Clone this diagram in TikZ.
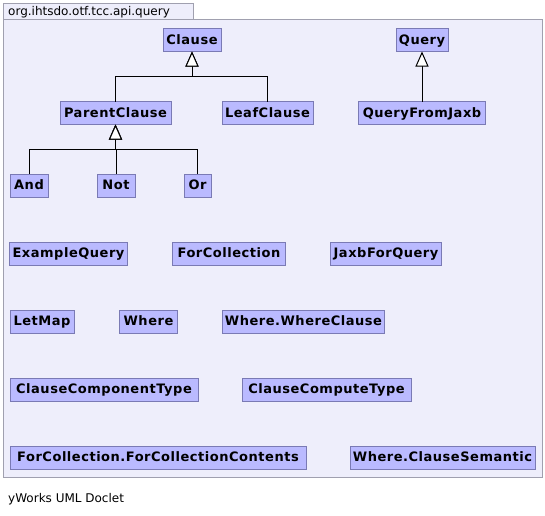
\documentclass[tikz,border=0pt]{standalone}
\usepackage{fontspec}
\usepackage{tikz}
\usetikzlibrary{positioning,arrows.meta,calc}
\newfontfamily\dejavu{DejaVu Sans}
\newfontfamily\dejavubold[LetterSpace=4]{DejaVu Sans Bold}
\definecolor{pkgbg}{RGB}{238,238,251}
\definecolor{pkgline}{RGB}{160,160,175}
\definecolor{clsfill}{RGB}{186,186,255}
\definecolor{clsline}{RGB}{122,122,180}

\begin{document}
\begin{tikzpicture}[
  x=1pt, y=-1pt,
  cls/.style={draw=clsline, fill=clsfill, line width=1pt, inner xsep=0pt,
              minimum width=#1, minimum height=23pt, outer sep=0pt,
              text height=10pt, text depth=2pt,
              font=\dejavubold\fontsize{13}{15}\selectfont},
  pkg/.style={draw=pkgline, fill=pkgbg, line width=1pt},
  lbl/.style={font=\dejavu\fontsize{12}{14}\selectfont, inner sep=0pt},
  inh/.style={-{Triangle[length=15pt, width=13pt, fill=white]}, line width=1pt}
]
\useasboundingbox (0,0) rectangle (545,515);
% package frame
\draw[pkg] (3,3) rectangle (193,19);
\draw[pkg] (3,19) rectangle (542,477);
\node[lbl, anchor=base west] (pkgname) at (8,15) {org.ihtsdo.otf.tcc.api.query};
\node[lbl, anchor=base west] (doclet) at (8,502) {yWorks UML Doclet};
% classes
\node[cls=58] (clause) at (192,40) {Clause};
\node[cls=111] (parent) at (115.5,113) {ParentClause};
\node[cls=91] (leaf) at (267.5,113) {LeafClause};
\node[cls=52] (query) at (422,40) {Query};
\node[cls=127] (qfj) at (422,113) {QueryFromJaxb};
\node[cls=38] (and) at (29,185.5) {And};
\node[cls=38] (not) at (116,185.5) {Not};
\node[cls=27] (or) at (197.5,185.5) {Or};
\node[cls=118] (exq) at (68.5,253.5) {ExampleQuery};
\node[cls=113] (forcol) at (229,253.5) {ForCollection};
\node[cls=111] (jfq) at (386,253.5) {JaxbForQuery};
\node[cls=64] (letmap) at (42,321.5) {LetMap};
\node[cls=58] (where) at (148.5,321.5) {Where};
\node[cls=162] (wwc) at (303.5,321.5) {Where.WhereClause};
\node[cls=188] (cct) at (104,389.5) {ClauseComponentType};
\node[cls=169] (cpt) at (326.5,389.5) {ClauseComputeType};
\node[cls=296] (fcfcc) at (158,457.5) {ForCollection.ForCollectionContents};
\node[cls=185] (wcs) at (442.5,457.5) {Where.ClauseSemantic};
% generalizations
\coordinate (jclause) at (192,76);
\coordinate (jparent) at (115.5,149);
\draw[inh] (parent.north) |- (jclause) -| (clause.south);
\draw[inh] (leaf.north) |- (jclause) -| (clause.south);
\foreach \c in {and, not, or}
  \draw[inh] (\c.north) |- (jparent) -| (parent.south);
\draw[inh] (qfj) -- (query);
\end{tikzpicture}
\end{document}
